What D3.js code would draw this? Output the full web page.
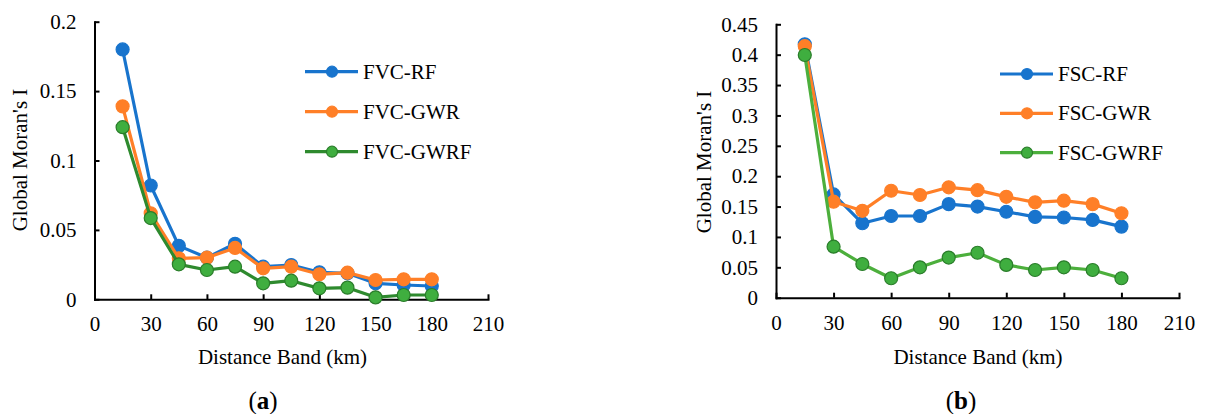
<!DOCTYPE html>
<meta charset="utf-8">
<style>
body { margin: 0; background: #fff; }
svg { display: block; font-family: "Liberation Serif", "Times New Roman", serif; }
.axis text { font-size: 21px; fill: #000; font-family: "Liberation Serif", serif; }
.axis path, .axis line { stroke: #000; stroke-width: 2; }
</style>
<svg width="1217" height="414"></svg>
<script src="https://cdn.jsdelivr.net/npm/d3@7"></script>
<script>

// distance bands (km)
var distance = [15, 30, 45, 60, 75, 90, 105, 120, 135, 150, 165, 180];

// panel (a) FVC
var fvcRF   = [0.180, 0.082, 0.0385, 0.030, 0.040, 0.0235, 0.0247, 0.0194, 0.0187, 0.0115, 0.0103, 0.0096];
var fvcGWR  = [0.139, 0.062, 0.0295, 0.030, 0.037, 0.0223, 0.0235, 0.0180, 0.0192, 0.0139, 0.0144, 0.0144];
var fvcGWRF = [0.124, 0.0585, 0.0252, 0.0211, 0.0235, 0.0115, 0.0134, 0.0079, 0.0084, 0.0014, 0.0031, 0.0031];

// panel (b) FSC
var fscRF   = [0.417, 0.170, 0.1225, 0.1345, 0.1345, 0.154, 0.150, 0.1415, 0.133, 0.132, 0.128, 0.117];
var fscGWR  = [0.414, 0.158, 0.143, 0.176, 0.169, 0.1817, 0.177, 0.166, 0.157, 0.1597, 0.154, 0.139];
var fscGWRF = [0.3995, 0.084, 0.0555, 0.032, 0.050, 0.066, 0.074, 0.054, 0.0456, 0.050, 0.0456, 0.032];

var xTicks = [0, 30, 60, 90, 120, 150, 180, 210];
var fvcTicks = [0, 0.05, 0.1, 0.15, 0.2];
var fscTicks = [0, 0.05, 0.1, 0.15, 0.2, 0.25, 0.3, 0.35, 0.4, 0.45];

var blue = "#1874cd", orange = "#ff7f27";

var svg = d3.select("svg");

function panel(p) {
  var x = d3.scaleLinear().domain([0, 210]).range([p.x0, p.x1]);
  var y = d3.scaleLinear().domain([0, p.ymax]).range([p.y0, p.y1]);
  var g = svg.append("g");

  g.append("g").attr("class", "axis")
    .attr("transform", "translate(0," + p.y0 + ")")
    .call(d3.axisBottom(x).tickValues(xTicks).tickSizeInner(-5).tickSizeOuter(0).tickPadding(17));

  g.append("g").attr("class", "axis")
    .attr("transform", "translate(" + p.x0 + ",0)")
    .call(d3.axisLeft(y).tickValues(p.yTicks).tickSizeInner(-5).tickSizeOuter(0).tickPadding(18)
      .tickFormat(function(d) { return String(+d.toFixed(2)); }));

  g.selectAll(".axis .domain").attr("stroke-linecap", "square");

  var line = d3.line()
    .x(function(d, i) { return x(distance[i]); })
    .y(function(d) { return y(d); });

  p.series.forEach(function(s) {
    g.append("path")
      .attr("d", line(s.values))
      .attr("fill", "none")
      .attr("stroke", s.line)
      .attr("stroke-width", 3.2)
      .attr("stroke-linejoin", "round");
    g.selectAll(null)
      .data(s.values)
      .enter().append("circle")
      .attr("cx", function(d, i) { return x(distance[i]); })
      .attr("cy", function(d) { return y(d); })
      .attr("r", 6.5)
      .attr("fill", s.fill)
      .attr("stroke", s.stroke)
      .attr("stroke-width", 1.2);
  });

  // legend
  p.series.forEach(function(s, i) {
    var ly = p.legY[i];
    g.append("line")
      .attr("x1", p.legX).attr("x2", p.legX + 53)
      .attr("y1", ly).attr("y2", ly)
      .attr("stroke", s.line).attr("stroke-width", 3.2);
    g.append("circle")
      .attr("cx", p.legX + 27).attr("cy", ly).attr("r", 5.5)
      .attr("fill", s.fill).attr("stroke", s.stroke).attr("stroke-width", 1.2);
    g.append("text")
      .attr("x", p.legX + 58).attr("y", ly).attr("dy", "0.34em")
      .style("font-size", "21px")
      .text(s.name);
  });

  g.append("text")
    .attr("transform", "translate(" + p.ylabX + "," + p.ylabY + ") rotate(-90)")
    .attr("text-anchor", "middle").attr("dy", "0.34em")
    .style("font-size", "21px")
    .text("Global Moran's I");

  g.append("text")
    .attr("x", p.xlabX).attr("y", 357).attr("dy", "0.34em")
    .attr("text-anchor", "middle")
    .style("font-size", "21px")
    .text("Distance Band (km)");

  var cap = g.append("text")
    .attr("x", p.capX).attr("y", 400).attr("dy", "0.34em")
    .attr("text-anchor", "middle")
    .style("font-size", "25px");
  cap.append("tspan").text("(");
  cap.append("tspan").attr("font-weight", "bold").text(p.cap);
  cap.append("tspan").text(")");
}

panel({
  x0: 94.5, x1: 488, y0: 299.3, y1: 21.7, ymax: 0.2, yTicks: fvcTicks,
  legX: 305, legY: [71.7, 111.7, 151.7],
  ylabX: 20, ylabY: 160, xlabX: 282.5, capX: 263, cap: "a",
  series: [
    {name: "FVC-RF", values: fvcRF, line: blue, fill: blue, stroke: blue},
    {name: "FVC-GWR", values: fvcGWR, line: orange, fill: orange, stroke: orange},
    {name: "FVC-GWRF", values: fvcGWRF, line: "#2e8a2e", fill: "#3fae3f", stroke: "#2a7d2a"}
  ]
});

panel({
  x0: 776, x1: 1179, y0: 297.7, y1: 24.3, ymax: 0.45, yTicks: fscTicks,
  legX: 1000, legY: [74, 113.3, 152.7],
  ylabX: 704, ylabY: 162, xlabX: 978, capX: 961, cap: "b",
  series: [
    {name: "FSC-RF", values: fscRF, line: blue, fill: blue, stroke: blue},
    {name: "FSC-GWR", values: fscGWR, line: orange, fill: orange, stroke: orange},
    {name: "FSC-GWRF", values: fscGWRF, line: "#4caf3c", fill: "#3fae3f", stroke: "#2a7d2a"}
  ]
});
</script>
